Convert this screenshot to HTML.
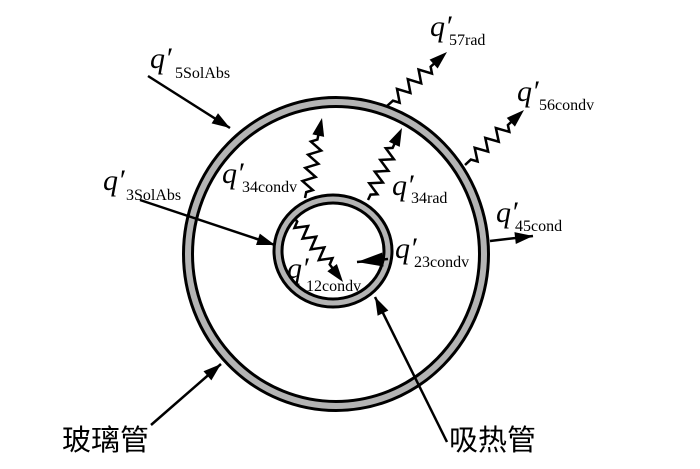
<!DOCTYPE html>
<html><head><meta charset="utf-8"><style>
html,body{margin:0;padding:0;background:#fff;}
svg{display:block;}
.q{font-family:"Liberation Serif",serif;font-style:italic;font-size:30px;}
.s{font-family:"Liberation Serif",serif;font-size:16px;}
.cn{font-family:"Liberation Sans","Noto Sans CJK SC",sans-serif;font-size:29px;}
</style></head><body>
<svg width="700" height="469" viewBox="0 0 700 469" xmlns="http://www.w3.org/2000/svg">
<ellipse cx="336" cy="254" rx="148" ry="152" fill="none" stroke="#000" stroke-width="12"/>
<ellipse cx="336" cy="254" rx="148" ry="152" fill="none" stroke="#b4b4b4" stroke-width="6"/>
<ellipse cx="333" cy="251" rx="55" ry="52" fill="none" stroke="#000" stroke-width="11"/>
<ellipse cx="333" cy="251" rx="55" ry="52" fill="none" stroke="#b4b4b4" stroke-width="5"/>
<g stroke="#000" stroke-width="2.5" fill="none">
<line x1="148" y1="76" x2="230" y2="128"/>
<line x1="140" y1="200" x2="275" y2="245"/>
<line x1="151" y1="425" x2="221" y2="364"/>
<line x1="447" y1="442" x2="375" y2="297"/>
<line x1="490" y1="241" x2="533" y2="236"/>
<line x1="388" y1="259" x2="357" y2="262"/>
<path id="z1" d=""/><path id="z2" d=""/><path id="z3" d=""/><path id="z4" d=""/><path id="z5" d=""/>
</g>
<g fill="#000" id="heads"></g>
<text class="q" x="150" y="68">q′</text><text class="s" x="175" y="78">5SolAbs</text>
<text class="q" x="103" y="190">q′</text><text class="s" x="126" y="200">3SolAbs</text>
<text class="q" x="430" y="36">q′</text><text class="s" x="449" y="45">57rad</text>
<text class="q" x="517" y="101">q′</text><text class="s" x="539" y="110">56condv</text>
<text class="q" x="222" y="183">q′</text><text class="s" x="242" y="192">34condv</text>
<text class="q" x="392" y="195">q′</text><text class="s" x="411" y="203">34rad</text>
<text class="q" x="496" y="222">q′</text><text class="s" x="515" y="231">45cond</text>
<text class="q" x="395" y="258">q′</text><text class="s" x="414" y="267">23condv</text>
<text class="q" x="287" y="278">q′</text><text class="s" x="306" y="291">12condv</text>
<text class="cn" x="62" y="450">玻璃管</text>
<text class="cn" x="449" y="450">吸热管</text>
<script>
function zig(id,x1,y1,x2,y2,n,amp,lead){
 var dx=x2-x1,dy=y2-y1,L=Math.hypot(dx,dy),ux=dx/L,uy=dy/L,px=-uy,py=ux;
 var headL=16,zl=L-headL-lead-6;
 var d="M"+x1+","+y1+" L"+(x1+ux*lead)+","+(y1+uy*lead);
 for(var i=1;i<=n;i++){var t=lead+zl*(i-0.5)/n,s=(i%2?1:-1)*amp;
  d+=" L"+(x1+ux*t+px*s)+","+(y1+uy*t+py*s);}
 var e=L-headL;d+=" L"+(x1+ux*(lead+zl))+","+(y1+uy*(lead+zl))+" L"+(x1+ux*e)+","+(y1+uy*e);
 document.getElementById(id).setAttribute("d",d);
 head(x1,y1,x2,y2,18,6);
}
function head(x1,y1,x2,y2,len,w){
 var dx=x2-x1,dy=y2-y1,L=Math.hypot(dx,dy),ux=dx/L,uy=dy/L,px=-uy,py=ux;
 var bx=x2-ux*len,by=y2-uy*len;
 var p=document.createElementNS("http://www.w3.org/2000/svg","path");
 p.setAttribute("d","M"+x2+","+y2+" L"+(bx+px*w)+","+(by+py*w)+" L"+(bx-px*w)+","+(by-py*w)+"Z");
 document.getElementById("heads").appendChild(p);
}
zig("z1",305,198,322,118,8,6,6);
zig("z2",368,200,402,128,8,6,6);
zig("z3",387,106,447,52,7,6,8);
zig("z4",465,165,524,110,7,6,8);
zig("z5",296,220,343,282,8,6,2);
head(148,76,230,128,18,6);
head(140,200,275,245,18,6);
head(151,425,221,364,18,6);
head(447,442,375,297,18,6);
head(490,241,533,236,18,6);
head(388,259,357,262,26,7);
</script>
</svg>
</body></html>
